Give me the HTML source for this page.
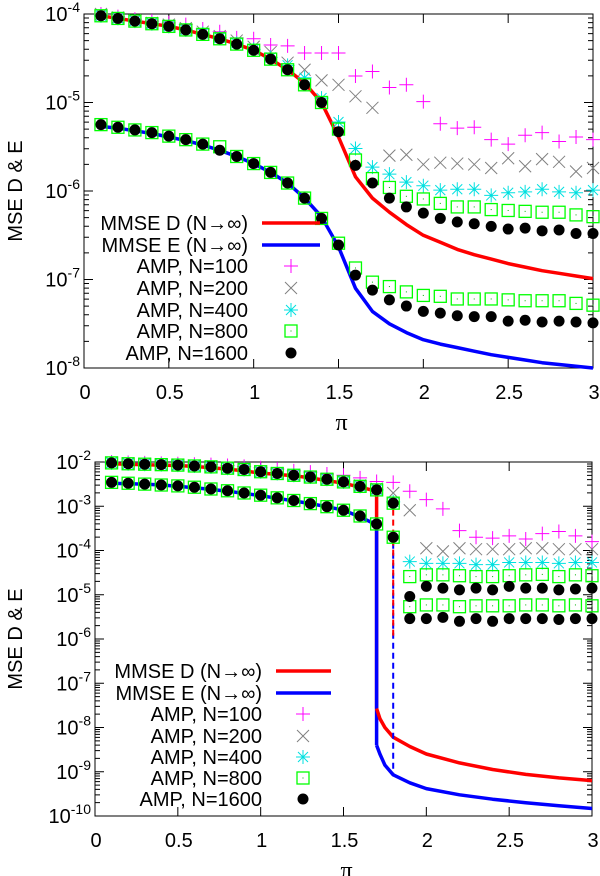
<!DOCTYPE html>
<html><head><meta charset="utf-8">
<style>
html,body{margin:0;padding:0;background:#fff;}
svg{display:block;font-family:"Liberation Sans",sans-serif;}
</style></head>
<body>
<svg id="fig" width="600" height="876" viewBox="0 0 600 876"></svg>
<script>
// ---------- data (log10 values) ----------
const xs = [0.1,0.2,0.3,0.4,0.5,0.6,0.7,0.8,0.9,1.0,1.1,1.2,1.3,1.4,1.5,1.6,1.7,1.8,1.9,2.0,2.1,2.2,2.3,2.4,2.5,2.6,2.7,2.8,2.9,3.0];
const xTicks = [0,0.5,1,1.5,2,2.5,3];
const xTickLabels = ["0","0.5","1","1.5","2","2.5","3"];
// top panel
const topD = [-4.02,-4.05,-4.08,-4.11,-4.14,-4.18,-4.23,-4.28,-4.34,-4.41,-4.51,-4.63,-4.78,-5.0,-5.39,-5.84,-6.08,-6.24,-6.38,-6.5,-6.58,-6.66,-6.72,-6.77,-6.82,-6.86,-6.9,-6.93,-6.96,-6.99];
const topE = [-5.27,-5.29,-5.32,-5.35,-5.39,-5.43,-5.48,-5.54,-5.61,-5.69,-5.79,-5.91,-6.08,-6.29,-6.63,-7.1,-7.36,-7.5,-7.6,-7.68,-7.73,-7.77,-7.81,-7.85,-7.88,-7.91,-7.94,-7.96,-7.98,-8.0];
const topD100 = [-4.0,-4.03,-4.06,-4.08,-4.1,-4.12,-4.17,-4.2,-4.27,-4.28,-4.35,-4.36,-4.44,-4.44,-4.44,-4.7,-4.65,-4.83,-4.8,-4.99,-5.24,-5.29,-5.28,-5.42,-5.47,-5.37,-5.34,-5.44,-5.39,-5.42];
const topD200 = [-4.0,-4.04,-4.07,-4.1,-4.12,-4.16,-4.2,-4.25,-4.3,-4.37,-4.43,-4.55,-4.63,-4.75,-4.8,-4.93,-5.06,-5.6,-5.59,-5.7,-5.68,-5.69,-5.7,-5.74,-5.63,-5.72,-5.64,-5.67,-5.78,-5.74];
const topD400 = [-4.02,-4.05,-4.08,-4.11,-4.14,-4.18,-4.22,-4.27,-4.33,-4.4,-4.49,-4.58,-4.72,-4.95,-5.22,-5.52,-5.73,-5.81,-5.9,-5.94,-5.99,-5.98,-5.98,-6.05,-6.02,-6.01,-5.98,-6.01,-6.02,-5.99];
const topD800 = [-4.02,-4.05,-4.08,-4.11,-4.14,-4.18,-4.23,-4.28,-4.34,-4.41,-4.51,-4.63,-4.8,-5.0,-5.3,-5.65,-5.86,-5.96,-6.06,-6.09,-6.14,-6.18,-6.18,-6.21,-6.22,-6.23,-6.24,-6.24,-6.27,-6.29];
const topD1600 = [-4.02,-4.05,-4.08,-4.11,-4.14,-4.18,-4.23,-4.28,-4.34,-4.41,-4.51,-4.63,-4.8,-5.0,-5.33,-5.71,-5.91,-6.08,-6.18,-6.25,-6.31,-6.35,-6.37,-6.4,-6.43,-6.42,-6.45,-6.44,-6.48,-6.48];
const topE800 = [-5.25,-5.28,-5.31,-5.34,-5.38,-5.42,-5.47,-5.5,-5.61,-5.69,-5.79,-5.91,-6.08,-6.31,-6.59,-6.87,-7.03,-7.08,-7.14,-7.18,-7.19,-7.22,-7.22,-7.22,-7.23,-7.24,-7.24,-7.24,-7.27,-7.29];
const topE1600 = [-5.25,-5.28,-5.31,-5.34,-5.38,-5.42,-5.47,-5.54,-5.61,-5.69,-5.79,-5.91,-6.08,-6.31,-6.61,-6.95,-7.12,-7.23,-7.3,-7.36,-7.38,-7.41,-7.42,-7.42,-7.47,-7.46,-7.48,-7.47,-7.48,-7.49];
// bottom panel
const botDUpperX = [0.1,0.2,0.3,0.4,0.5,0.6,0.7,0.8,0.9,1.0,1.1,1.2,1.3,1.4,1.5,1.6,1.7];
const botDUpper = [-2.04,-2.05,-2.06,-2.07,-2.08,-2.1,-2.13,-2.16,-2.2,-2.25,-2.28,-2.31,-2.36,-2.42,-2.48,-2.57,-2.66];
const botEUpper = [-2.48,-2.49,-2.5,-2.52,-2.55,-2.58,-2.62,-2.66,-2.71,-2.76,-2.82,-2.88,-2.94,-3.01,-3.09,-3.24,-3.42];
const botLowerX = [1.7,1.72,1.75,1.8,1.9,2.0,2.2,2.4,2.6,2.8,3.0];
const botDLower = [-7.57,-7.8,-8.0,-8.22,-8.43,-8.6,-8.8,-8.95,-9.06,-9.14,-9.2];
const botELower = [-8.4,-8.6,-8.85,-9.07,-9.25,-9.38,-9.52,-9.62,-9.7,-9.77,-9.83];
const botDashX = 1.8;
const botDDash = [-2.85,-8.22];
const botEDash = [-3.6,-9.07];
const botD100 = [-2.0,-2.01,-2.02,-2.03,-2.04,-2.05,-2.06,-2.08,-2.1,-2.13,-2.16,-2.2,-2.23,-2.27,-2.3,-2.36,-2.44,-2.46,-2.66,-2.85,-3.06,-3.55,-3.7,-3.72,-3.67,-3.74,-3.62,-3.57,-3.67,-3.8];
const botD200 = [-2.01,-2.03,-2.04,-2.05,-2.06,-2.08,-2.1,-2.13,-2.16,-2.21,-2.25,-2.29,-2.33,-2.38,-2.44,-2.53,-2.6,-2.7,-3.09,-3.95,-4.02,-3.95,-3.97,-3.97,-3.97,-3.95,-3.95,-3.97,-3.97,-3.97];
const botD400 = [-2.02,-2.04,-2.05,-2.06,-2.07,-2.09,-2.11,-2.14,-2.17,-2.22,-2.26,-2.3,-2.34,-2.39,-2.45,-2.55,-2.63,-2.9,-4.25,-4.29,-4.29,-4.29,-4.32,-4.32,-4.27,-4.27,-4.27,-4.29,-4.27,-4.27];
const botD800 = [-2.02,-2.04,-2.05,-2.06,-2.07,-2.09,-2.11,-2.14,-2.17,-2.22,-2.26,-2.3,-2.34,-2.39,-2.45,-2.55,-2.63,-2.93,-4.59,-4.55,-4.55,-4.57,-4.59,-4.59,-4.57,-4.55,-4.54,-4.59,-4.55,-4.57];
const botD1600 = [-2.02,-2.04,-2.05,-2.06,-2.07,-2.09,-2.11,-2.14,-2.17,-2.22,-2.26,-2.3,-2.34,-2.39,-2.45,-2.55,-2.63,-2.93,-5.04,-4.81,-4.85,-4.89,-4.85,-4.89,-4.81,-4.85,-4.85,-4.89,-4.87,-4.85];
const botE800 = [-2.46,-2.48,-2.5,-2.52,-2.54,-2.57,-2.61,-2.65,-2.7,-2.75,-2.81,-2.87,-2.94,-3.01,-3.09,-3.22,-3.4,-3.7,-5.27,-5.23,-5.23,-5.27,-5.25,-5.25,-5.25,-5.23,-5.23,-5.25,-5.23,-5.25];
const botE1600 = [-2.46,-2.48,-2.5,-2.52,-2.54,-2.57,-2.61,-2.65,-2.7,-2.75,-2.81,-2.87,-2.94,-3.01,-3.09,-3.22,-3.4,-3.7,-5.54,-5.54,-5.51,-5.6,-5.54,-5.6,-5.54,-5.54,-5.54,-5.56,-5.54,-5.54];
const legendLabels = ["MMSE D (N\u2192\u221e)","MMSE E (N\u2192\u221e)","AMP, N=100","AMP, N=200","AMP, N=400","AMP, N=800","AMP, N=1600"];

const NS = "http://www.w3.org/2000/svg";
const svg = document.getElementById('fig');
function mk(tag, attrs, parent){
  const e = document.createElementNS(NS, tag);
  for (const k in attrs) e.setAttribute(k, attrs[k]);
  (parent||svg).appendChild(e);
  return e;
}
function marker(g, type, x, y){
  let e;
  if (type==='plus'){
    e = mk('path',{d:`M${x-7} ${y}H${x+7}M${x} ${y-7}V${y+7}`,stroke:'#ff00ff','stroke-width':1,fill:'none'},g);
  } else if (type==='cross'){
    e = mk('path',{d:`M${x-6} ${y-6}L${x+6} ${y+6}M${x-6} ${y+6}L${x+6} ${y-6}`,stroke:'#808080','stroke-width':1,fill:'none'},g);
  } else if (type==='star'){
    e = mk('path',{d:`M${x-7} ${y}H${x+7}M${x} ${y-7}V${y+7}M${x-5} ${y-5}L${x+5} ${y+5}M${x-5} ${y+5}L${x+5} ${y-5}`,stroke:'#00e0e0','stroke-width':1,fill:'none'},g);
  } else if (type==='square'){
    e = mk('g',{},g);
    mk('rect',{x:x-6,y:y-6,width:12,height:12,stroke:'#00ff00','stroke-width':1.3,fill:'none'},e);
    mk('rect',{x:x-0.5,y:y-0.5,width:1,height:1,fill:'#00b000'},e);
  } else {
    e = mk('circle',{cx:x,cy:y,r:5.5,fill:'#000'},g);
  }
  return e;
}

function panel(cfg){
  const {L,R,T,B,ymax,ymin,name} = cfg;
  const X = v => L + (v-0)/(3-0)*(R-L);
  const Y = lv => T + (ymax-lv)/(ymax-ymin)*(B-T);
  const g = mk('g',{});
  
  
  const fr = mk('rect',{x:L,y:T,width:R-L,height:B-T,fill:'none',stroke:'#000','stroke-width':1},g);
  
  
  let d='';
  for (let p=ymax; p>=ymin; p--){
    const y=Y(p);
    d+=`M${L} ${y}h9M${R} ${y}h-9`;
    if (p>ymin){
      for (let m=2;m<=9;m++){
        const yy=Y(p-1+Math.log10(m));
        d+=`M${L} ${yy}h5M${R} ${yy}h-5`;
      }
    }
    const t = mk('text',{x:L-4,y:y+7,'text-anchor':'end','font-size':20},g);
    
    
    t.appendChild(document.createTextNode('10'));
    const ts = mk('tspan',{dy:-9,'font-size':14},t);
    ts.textContent = String(p);
  }
  xTicks.forEach((v,i)=>{
    const x=X(v);
    d+=`M${x} ${B}v-9M${x} ${T}v9`;
    const t = mk('text',{x:x+1,y:B+31,'text-anchor':'middle','font-size':20},g);
    
    
    t.textContent = xTickLabels[i];
  });
  mk('path',{d:d,stroke:'#000','stroke-width':1,fill:'none'},g);
  const xt = mk('text',{x:(L+R)/2+3,y:B+62,'text-anchor':'middle','font-size':24,'font-family':'"Liberation Serif",serif'},g);
  
  
  xt.textContent='\u03c0';
  const yt = mk('text',{x:0,y:0,'text-anchor':'middle','font-size':20,transform:`translate(22,${(T+B)/2}) rotate(-90)`},g);
  
  
  yt.textContent='MSE D & E';
  return {g,X,Y};
}
function line(g,X,Y,xv,yv,color,name,dash){
  const pts = xv.map((v,i)=>`${X(v).toFixed(1)},${Y(yv[i]).toFixed(1)}`).join(' ');
  const a = {points:pts,fill:'none',stroke:color,'stroke-width':dash?2:3.5,'stroke-linejoin':'round'};
  if (dash) a['stroke-dasharray']=dash;
  const e = mk('polyline',a,g);
  
  
}
function series(g,X,Y,vals,type,name){
  const sg = mk('g',{},g);
  
  
  vals.forEach((v,i)=>{ if(v!==null) marker(sg,type,X(xs[i]),Y(v)); });
}
function legend(g,textRight,lineL,lineR,mx,rows){
  const lg = mk('g',{},g);
  
  
  const types=['lineD','lineE','plus','cross','star','square','dot'];
  legendLabels.forEach((lab,i)=>{
    const y=rows[i];
    const eg = mk('g',{},lg);
    
    
    const t = mk('text',{x:textRight,y:y+7,'text-anchor':'end','font-size':20},eg);
    t.textContent=lab;
    if (i<2) mk('line',{x1:lineL,x2:lineR,y1:y,y2:y,stroke:i==0?'#ff0000':'#0000ff','stroke-width':3.5},eg);
    else marker(eg,types[i],mx,y);
  });
}

// ---------- top panel ----------
(function(){
  const {g,X,Y} = panel({L:84,R:593,T:14,B:368,ymax:-4,ymin:-8,name:'top-chart'});
  line(g,X,Y,xs,topD,'#ff0000','mmse-d-line');
  line(g,X,Y,xs,topE,'#0000ff','mmse-e-line');
  series(g,X,Y,topD100,'plus','amp-n100-d');
  series(g,X,Y,topD200,'cross','amp-n200-d');
  series(g,X,Y,topD400,'star','amp-n400-d');
  series(g,X,Y,topD800,'square','amp-n800-d');
  series(g,X,Y,topE800,'square','amp-n800-e');
  series(g,X,Y,topD1600,'dot','amp-n1600-d');
  series(g,X,Y,topE1600,'dot','amp-n1600-e');
  legend(g,248,262,320,291,[223,245,266,288,310,331,353]);
})();

// ---------- bottom panel ----------
(function(){
  const {g,X,Y} = panel({L:95,R:592,T:462,B:816,ymax:-2,ymin:-10,name:'bottom-chart'});
  line(g,X,Y,[botDUpperX[16],botLowerX[0]],[botDUpper[16],botDLower[0]],'#ff0000','mmse-d-drop');
  line(g,X,Y,[botDUpperX[16],botLowerX[0]],[botEUpper[16],botELower[0]],'#0000ff','mmse-e-drop');
  line(g,X,Y,botDUpperX,botDUpper,'#ff0000','mmse-d-upper');
  line(g,X,Y,botLowerX,botDLower,'#ff0000','mmse-d-lower');
  line(g,X,Y,botDUpperX,botEUpper,'#0000ff','mmse-e-upper');
  line(g,X,Y,botLowerX,botELower,'#0000ff','mmse-e-lower');
  line(g,X,Y,[botDashX,botDashX],botEDash,'#0000ff','mmse-e-transition','6,4');
  line(g,X,Y,[botDashX,botDashX],[botDDash[0],-6.0],'#ff0000','mmse-d-transition','6,4');
  series(g,X,Y,botD100,'plus','amp-n100-d');
  series(g,X,Y,botD200,'cross','amp-n200-d');
  series(g,X,Y,botD400,'star','amp-n400-d');
  series(g,X,Y,botD800,'square','amp-n800-d');
  series(g,X,Y,botE800,'square','amp-n800-e');
  series(g,X,Y,botD1600,'dot','amp-n1600-d');
  series(g,X,Y,botE1600,'dot','amp-n1600-e');
  legend(g,262,276,331,303,[671,693,714,736,757,778,799]);
})();
</script>
</body></html>
